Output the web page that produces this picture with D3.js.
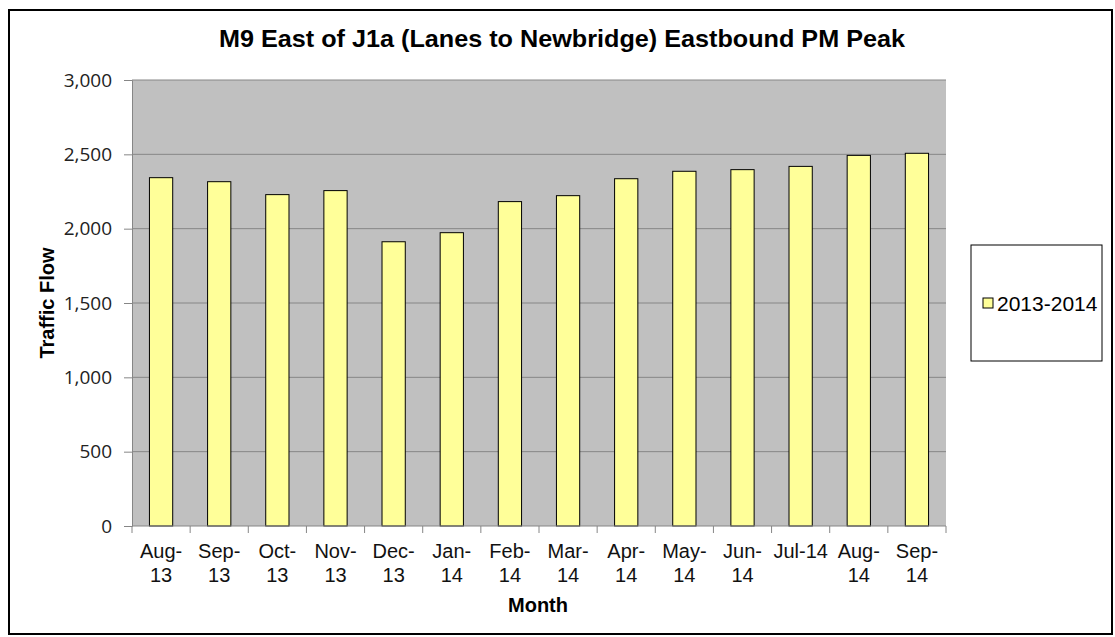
<!DOCTYPE html>
<html>
<head>
<meta charset="utf-8">
<script src="https://cdn.jsdelivr.net/npm/d3@7"></script>
<style>
  body { margin: 0; background: #fff; }
  text { font-family: Arial, "Liberation Sans", sans-serif; }
</style>
</head>
<body>
<svg id="chart"></svg>
<script>
const W = 1115
const H = 637
const margins = { top: 80, left: 132, right: 169, bottom: 111 }
const w = W - margins.left - margins.right
const h = H - margins.top - margins.bottom

// data
const months = ['Aug-13', 'Sep-13', 'Oct-13', 'Nov-13', 'Dec-13', 'Jan-14', 'Feb-14',
  'Mar-14', 'Apr-14', 'May-14', 'Jun-14', 'Jul-14', 'Aug-14', 'Sep-14']
const flow = [2343, 2316, 2229, 2256, 1912, 1973, 2182, 2222, 2336, 2386, 2397, 2419, 2493, 2507]
const yTicks = [0, 500, 1000, 1500, 2000, 2500, 3000]
const seriesName = '2013-2014'

const svg = d3.select('#chart').attr('width', W).attr('height', H)

// outer frame
svg.append('rect')
  .attr('x', 9).attr('y', 10)
  .attr('width', 1103).attr('height', 624)
  .attr('fill', '#fff').attr('stroke', '#000').attr('stroke-width', 2)

svg.append('text')
  .attr('x', 219).attr('y', 47)
  .attr('textLength', 686).attr('lengthAdjust', 'spacingAndGlyphs')
  .style('font-size', '24px').style('font-weight', 'bold')
  .text('M9 East of J1a (Lanes to Newbridge) Eastbound PM Peak')

const inner = svg.append('g')
  .attr('transform', 'translate(' + margins.left + ',' + margins.top + ')')

const x = d3.scaleBand().domain(months).range([0, w]).paddingInner(0.6).paddingOuter(0.3)
const y = d3.scaleLinear().domain([0, 3000]).range([h, 0])

inner.append('rect')
  .attr('width', w).attr('height', h)
  .attr('fill', '#c0c0c0')

// gridlines
inner.selectAll('line.grid')
  .data(yTicks.filter(d => d > 0))
  .enter()
  .append('line')
  .attr('class', 'grid')
  .attr('x1', 0).attr('x2', w)
  .attr('y1', d => y(d)).attr('y2', d => y(d))
  .attr('stroke', '#868686').attr('stroke-width', 1)

// bars
inner.selectAll('rect.bar')
  .data(flow)
  .enter()
  .append('rect')
  .attr('class', 'bar')
  .attr('x', (d, i) => x(months[i]))
  .attr('y', d => y(d))
  .attr('width', x.bandwidth())
  .attr('height', d => h - y(d))
  .attr('fill', '#ffff99')
  .attr('stroke', '#000').attr('stroke-width', 1)

// y axis
const yAxis = inner.append('g')
  .call(d3.axisLeft(y).tickValues(yTicks).tickSize(8).tickPadding(12).tickFormat(d3.format(',')))
yAxis.attr('font-family', null).attr('font-size', null)
yAxis.select('.domain').attr('stroke', '#868686')
yAxis.selectAll('.tick line').attr('stroke', '#868686')
yAxis.selectAll('.tick text')
  .attr('font-family', '"Open Sans", sans-serif')
  .attr('font-size', 19)
  .style('font-family', '"Open Sans", sans-serif')
  .style('font-size', '19px')
  .attr('fill', '#222')

// x axis: ticks at band boundaries
const step = x.step()
const xg = inner.append('g').attr('transform', 'translate(0,' + h + ')')
xg.append('line')
  .attr('x1', 0).attr('x2', w)
  .attr('stroke', '#868686')
xg.selectAll('line.tk')
  .data(d3.range(months.length + 1))
  .enter()
  .append('line')
  .attr('class', 'tk')
  .attr('x1', i => i * step).attr('x2', i => i * step)
  .attr('y1', 0).attr('y2', 7)
  .attr('stroke', '#868686')

const labels = xg.selectAll('text.xl')
  .data(months)
  .enter()
  .append('text')
  .attr('class', 'xl')
  .attr('text-anchor', 'middle')
  .attr('transform', d => 'translate(' + (x(d) + x.bandwidth() / 2) + ',0)')
  .style('font-size', '20px')
  .attr('fill', '#111')

labels.each(function(d) {
  const t = d3.select(this)
  if (d === 'Jul-14') {
    t.append('tspan').attr('x', 0).attr('y', 32).text(d)
  } else {
    const parts = d.split('-')
    t.append('tspan').attr('x', 0).attr('y', 32).text(parts[0] + '-')
    t.append('tspan').attr('x', 0).attr('y', 56).text(parts[1])
  }
})

// axis titles
svg.append('text')
  .attr('transform', 'translate(54,' + (margins.top + h / 2) + ') rotate(-90)')
  .attr('text-anchor', 'middle')
  .style('font-size', '20px').style('font-weight', 'bold')
  .text('Traffic Flow')

svg.append('text')
  .attr('x', margins.left + w / 2 - 1).attr('y', 612)
  .attr('text-anchor', 'middle')
  .style('font-size', '20px').style('font-weight', 'bold')
  .text('Month')

// legend
const legend = svg.append('g')
legend.append('rect')
  .attr('x', 971).attr('y', 245)
  .attr('width', 131).attr('height', 116)
  .attr('fill', '#fff').attr('stroke', '#000').attr('stroke-width', 1)
legend.append('rect')
  .attr('x', 983).attr('y', 298)
  .attr('width', 10).attr('height', 10)
  .attr('fill', '#ffff99').attr('stroke', '#000')
legend.append('text')
  .attr('x', 997).attr('y', 311)
  .style('font-size', '21px')
  .text(seriesName)
</script>
</body>
</html>
